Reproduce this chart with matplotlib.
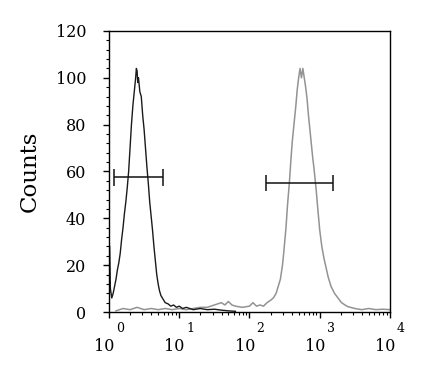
import matplotlib
matplotlib.use("Agg")
import matplotlib.pyplot as plt
import numpy as np
from matplotlib.ticker import MultipleLocator, LogLocator, NullFormatter

neg_log = [0.0, 0.01, 0.02, 0.04, 0.06, 0.08, 0.10, 0.12, 0.14, 0.16, 0.18, 0.20,
           0.22, 0.24, 0.26, 0.28, 0.30, 0.32, 0.34, 0.36, 0.38, 0.39, 0.40, 0.41,
           0.42, 0.44, 0.46, 0.48, 0.50, 0.52, 0.54, 0.56, 0.58, 0.60, 0.62, 0.64,
           0.66, 0.68, 0.70, 0.72, 0.74, 0.76, 0.78, 0.80, 0.84, 0.88, 0.92, 0.96,
           1.00, 1.05, 1.10, 1.15, 1.20, 1.30, 1.40, 1.50, 1.60, 1.70, 1.80]
neg_counts = [29, 28, 10, 6, 8, 11, 14, 18, 21, 25, 31, 36,
              42, 47, 53, 60, 70, 80, 88, 94, 100, 104, 103, 98,
              100, 94, 92, 84, 78, 70, 62, 55, 47, 41, 35, 28,
              22, 16, 12, 9, 7, 6, 5, 4, 3.5, 2.5, 3, 2,
              2.5, 1.5, 2, 1.5, 1, 1.5, 1, 1.2, 0.8, 0.5, 0.3]

pos_log = [0.1, 0.2, 0.3, 0.4, 0.5, 0.6, 0.7, 0.8, 0.9, 1.0, 1.1, 1.2, 1.3, 1.4,
           1.5, 1.6, 1.65, 1.7, 1.75, 1.8, 1.9, 2.0, 2.05, 2.1, 2.15, 2.2, 2.25,
           2.3, 2.34, 2.38, 2.41, 2.44, 2.47, 2.49, 2.52, 2.54, 2.57, 2.59, 2.61,
           2.63, 2.66, 2.68, 2.70, 2.72, 2.74, 2.76, 2.78, 2.80, 2.82, 2.84, 2.87,
           2.90, 2.92, 2.95, 2.97, 3.00, 3.03, 3.06, 3.09, 3.12, 3.16, 3.21, 3.26,
           3.31, 3.36, 3.40, 3.5, 3.6, 3.7, 3.8, 3.9, 4.0]
pos_counts = [0.5, 1.5, 1, 2, 1, 1.5, 1, 1.5, 1, 1.5, 1, 1.5, 2, 2,
              3, 4, 3, 4.5, 3, 2.5, 2, 2.5, 4, 2.5, 3, 2.5, 4,
              5, 6, 8, 11, 14, 20, 26, 36, 45, 56, 65, 73,
              79, 88, 95, 100, 104, 100, 104, 100, 96, 91, 84, 75,
              66, 61, 52, 45, 35, 28, 23, 19, 15, 11, 8, 6,
              4, 3, 2.3, 1.5, 1, 1.5, 1, 1.2, 1]

# Marcadores (gates)
neg_gate = [1.18, 5.9]
neg_gate_y = 57.5
pos_gate = [174, 1540]
pos_gate_y = 55
exponentes = ["0", "1", "2", "3", "4"]

plt.rcParams["font.family"] = "DejaVu Serif"

fig = plt.figure(figsize=(4.29, 3.73), dpi=100)
ax = fig.add_axes([0.254, 0.1635, 0.655, 0.7535])

ax.plot(10 ** np.array(pos_log), pos_counts, color="#939393", lw=1.1)
ax.plot(10 ** np.array(neg_log), neg_counts, color="#1a1a1a", lw=1.0)

for (x0, x1), yv in [(neg_gate, neg_gate_y), (pos_gate, pos_gate_y)]:
    ax.hlines(yv, x0, x1, color="#111111", lw=1.1)
    ax.vlines([x0, x1], yv - 3.5, yv + 3.5, color="#111111", lw=1.1)

ax.set_xscale("log")
ax.set_xlim(1, 1e4)
ax.set_ylim(0, 120)

ax.yaxis.set_major_locator(MultipleLocator(20))
ax.yaxis.set_minor_locator(MultipleLocator(4))
ax.xaxis.set_major_locator(LogLocator(base=10, numticks=10))
ax.xaxis.set_minor_locator(LogLocator(base=10, subs=np.arange(2, 10), numticks=10))
ax.xaxis.set_major_formatter(NullFormatter())
ax.xaxis.set_minor_formatter(NullFormatter())

ax.tick_params(axis="both", which="major", length=4, width=1, direction="out")
ax.tick_params(axis="both", which="minor", length=2.5, width=0.8, direction="out")
ax.tick_params(axis="y", labelsize=11.5, pad=12.5)

for s in ax.spines.values():
    s.set_linewidth(1.0)

# etiquetas del eje x con exponente separado
for i, e in enumerate(exponentes):
    ax.annotate("10", xy=(10 ** i, 0), xycoords=("data", "axes fraction"),
                xytext=(4, -19), textcoords="offset points",
                ha="right", va="top", fontsize=11.5)
    ax.annotate(e, xy=(10 ** i, 0), xycoords=("data", "axes fraction"),
                xytext=(5, -16.5), textcoords="offset points",
                ha="left", va="bottom", fontsize=9)

ax.set_ylabel("Counts", fontsize=16.5, labelpad=11)

fig.savefig("out.png", dpi=100)
